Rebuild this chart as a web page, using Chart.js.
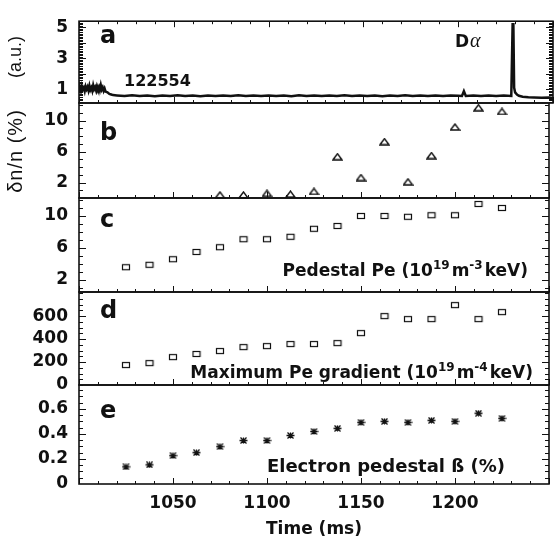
<!DOCTYPE html>
<html>
<head>
<meta charset="utf-8">
<script src="https://cdn.jsdelivr.net/npm/chart.js@4.4.0/dist/chart.umd.min.js"></script>
<style>
  body { margin: 0; background: #fff; }
  #wrap { position: relative; width: 554px; height: 542px; }
  #wrap canvas { position: absolute; left: 0; top: 0; }
</style>
</head>
<body>
<div id="wrap">
  <canvas id="pa" width="554" height="542"></canvas>
  <canvas id="pb" width="554" height="542"></canvas>
  <canvas id="pc" width="554" height="542"></canvas>
  <canvas id="pd" width="554" height="542"></canvas>
  <canvas id="pe" width="554" height="542"></canvas>
</div>
<script>
// ---- data ----
// (a) D-alpha trace, shot 122554
const daTime = [1000,1000.5,1001,1001.5,1002,1002.5,1003,1003.5,1004,1004.5,1005,1005.5,1006,1006.5,1007,1007.5,
  1008,1008.5,1009,1009.5,1010,1010.5,1011,1011.5,1012,1012.5,1013,1013.5,1014,1015,1016,1017,1018,
  1020,1024,1028,1032,1036,1040,1044,1048,1052,1056,1060,1064,1068,1072,1076,1080,1084,1088,1092,1096,1100,
  1104,1108,1112,1116,1120,1124,1128,1132,1136,1140,1144,1148,1152,1156,1160,1164,1168,1172,1176,1180,
  1184,1188,1192,1196,1200,1202,1203,1204,1208,1212,1216,1220,1224,1228,1228.7,1229.1,1229.5,1230,1231,
  1232,1234,1237,1240,1244,1248,1250];
const daSignal = [0.95,1.12,0.9,1.2,0.98,1.1,0.88,1.18,1.0,1.15,0.92,1.22,0.96,1.1,0.9,1.25,
  1.0,1.14,0.93,1.2,1.02,1.16,0.95,1.26,0.98,1.12,0.9,1.05,0.85,0.8,0.7,0.66,0.62,
  0.6,0.56,0.61,0.57,0.6,0.55,0.6,0.57,0.61,0.56,0.59,0.55,0.6,0.57,0.6,0.56,0.61,0.57,0.59,0.56,0.6,
  0.57,0.6,0.55,0.61,0.57,0.59,0.56,0.6,0.57,0.61,0.56,0.59,0.57,0.6,0.55,0.6,0.57,0.61,0.56,0.59,
  0.57,0.6,0.56,0.6,0.58,0.57,0.88,0.57,0.6,0.56,0.6,0.57,0.6,0.57,5.2,5.2,1.1,0.8,0.65,
  0.58,0.52,0.48,0.47,0.45,0.46,0.44];

// (b) density fluctuation level
const flucTime = [1075,1087.5,1100,1112.5,1125,1137.5,1150,1162.5,1175,1187.5,1200,1212.5,1225];
const dnOverN = [0.4,0.4,0.6,0.5,0.85,5.35,2.65,7.3,2.1,5.5,9.2,11.7,11.2];

// (c)-(e) profile fits
const fitTime = [1025,1037.5,1050,1062.5,1075,1087.5,1100,1112.5,1125,1137.5,1150,1162.5,1175,1187.5,1200,1212.5,1225];
const pedPe = [3.6,3.9,4.6,5.5,6.1,7.1,7.1,7.4,8.4,8.75,10.0,10.0,9.9,10.1,10.1,11.5,11.0];
const maxGradPe = [174,191,243,270,296,330,339,357,357,365,452,600,574,574,696,574,635];
const betaPed = [0.137,0.153,0.226,0.25,0.298,0.347,0.347,0.387,0.419,0.444,0.492,0.5,0.492,0.508,0.5,0.565,0.524];

// tick labels
const timeTicks = [1050, 1100, 1150, 1200];
const daTicks = [1, 3, 5];
const flucTicks = [2, 6, 10];
const peTicks = [2, 6, 10];
const gradTicks = [0, 200, 400, 600];
const betaTicks = [0, 0.2, 0.4, 0.6];

Chart.defaults.font.family = 'DejaVu Sans';
Chart.defaults.font.size = 17;
Chart.defaults.font.weight = 'bold';
Chart.defaults.color = '#111';

const INK = '#111';
const BOLD = 'bold 17px "DejaVu Sans"';
const SUP = 'bold 12px "DejaVu Sans"';

function pts(xs, ys) {
  return xs.map((x, i) => ({ x: x, y: ys[i] }));
}

// small marker images
function marker(w, h, draw) {
  const c = document.createElement('canvas');
  c.width = w; c.height = h;
  const g = c.getContext('2d');
  g.strokeStyle = INK;
  g.lineWidth = 1.2;
  draw(g);
  return c;
}
const squareMark = marker(10, 8, g => g.strokeRect(1.5, 1.5, 7, 5));
const triMark = marker(11, 8, g => {
  g.lineWidth = 1.4;
  g.beginPath(); g.moveTo(1, 7); g.lineTo(5.5, 1); g.lineTo(10, 7); g.closePath(); g.stroke();
});
const starMark = marker(9, 7, g => {
  g.lineWidth = 1.3;
  g.beginPath();
  g.moveTo(0.5, 3.5); g.lineTo(8.5, 3.5);
  g.moveTo(1.5, 0.5); g.lineTo(7.5, 6.5);
  g.moveTo(1.5, 6.5); g.lineTo(7.5, 0.5);
  g.moveTo(4.5, 0.5); g.lineTo(4.5, 6.5);
  g.stroke();
});

// text made of runs, some raised as superscripts
function drawRuns(ctx, runs, x, y, align) {
  let total = 0;
  runs.forEach(r => { ctx.font = r.sup ? SUP : BOLD; total += ctx.measureText(r.t).width + (r.gap || 0); });
  let cx = align === 'right' ? x - total : x;
  runs.forEach(r => {
    ctx.font = r.sup ? SUP : BOLD;
    ctx.fillText(r.t, cx, r.sup ? y - 7 : y);
    cx += ctx.measureText(r.t).width + (r.gap || 0);
  });
}

// frame, inward ticks and labels of one panel
function framePlugin(cfg) {
  return {
    id: 'frame',
    afterDraw(chart) {
      const { ctx, chartArea: a } = chart;
      const x = chart.scales.x, y = chart.scales.y;
      ctx.save();
      ctx.strokeStyle = INK;
      ctx.lineWidth = 1;
      ctx.beginPath();
      for (let t = 1000; t <= 1250; t += 10) {
        const px = Math.round(x.getPixelForValue(t)) + 0.5;
        const len = t % 50 === 0 ? 6 : 3;
        ctx.moveTo(px, a.bottom); ctx.lineTo(px, a.bottom - len);
        if (cfg.topTicks) { ctx.moveTo(px, a.top); ctx.lineTo(px, a.top + len); }
      }
      for (let i = 0; ; i++) {
        const v = cfg.minorFrom + i * cfg.minorStep;
        if (v > y.max + 1e-9) break;
        if (v < y.min) continue;
        const py = Math.round(y.getPixelForValue(v)) + 0.5;
        const major = cfg.majors.some(m => Math.abs(m - v) < 1e-6);
        const len = major ? 7 : 4;
        ctx.moveTo(a.left, py); ctx.lineTo(a.left + len, py);
        ctx.moveTo(a.right, py); ctx.lineTo(a.right - len, py);
      }
      ctx.stroke();
      ctx.lineWidth = 1.6;
      ctx.strokeRect(a.left, a.top, a.right - a.left, a.bottom - a.top);

      ctx.fillStyle = INK;
      ctx.textAlign = 'left';
      ctx.textBaseline = 'alphabetic';
      ctx.font = 'bold 24px "DejaVu Sans"';
      ctx.fillText(cfg.letter, 100, cfg.letterY);
      if (cfg.extra) cfg.extra(ctx);
      ctx.restore();
    }
  };
}

function makePanel(id, cfg) {
  return new Chart(document.getElementById(id), {
    type: 'scatter',
    data: { datasets: cfg.datasets },
    options: {
      responsive: false,
      animation: false,
      devicePixelRatio: 1,
      layout: { padding: { left: 0, right: 1, top: cfg.top, bottom: cfg.bottom } },
      plugins: { legend: { display: false }, tooltip: { enabled: false } },
      scales: {
        x: {
          type: 'linear', min: 1000, max: 1250,
          display: !!cfg.showX,
          grid: { display: false, drawTicks: false },
          border: { display: false },
          afterBuildTicks: s => { s.ticks = timeTicks.map(v => ({ value: v })); },
          afterFit: s => { s.height = cfg.showX ? 58 : 0; },
          ticks: { padding: 9, maxRotation: 0, callback: v => String(v) },
          title: { display: true, text: 'Time (ms)', padding: { top: 0, bottom: 2 } }
        },
        y: {
          min: cfg.min, max: cfg.max,
          grid: { display: false, drawTicks: false },
          border: { display: false },
          afterBuildTicks: s => { s.ticks = cfg.ticks.map(v => ({ value: v })); },
          afterFit: s => { s.width = 79; },
          ticks: { padding: 11, callback: v => String(v) }
        }
      }
    },
    plugins: [framePlugin(cfg)]
  });
}

makePanel('pa', {
  top: 11, bottom: 542 - 103, min: 0.11, max: 5.4, ticks: daTicks,
  minorFrom: 0.2, minorStep: 0.1, majors: [1, 2, 3, 4, 5], topTicks: true,
  letter: 'a', letterY: 43,
  datasets: [{
    data: pts(daTime, daSignal), showLine: true, borderColor: INK, borderWidth: 2.5,
    pointRadius: 0, tension: 0
  }],
  extra: ctx => {
    ctx.font = 'bold 16px "DejaVu Sans"';
    ctx.fillText('122554', 124, 86);
    ctx.font = 'bold 17px "DejaVu Sans"';
    ctx.fillText('D', 455, 47);
    ctx.font = 'italic 20px "Liberation Serif"';
    ctx.fillText('\u03b1', 470, 47);
    // y axis titles
    ctx.textAlign = 'center';
    ctx.textBaseline = 'middle';
    ctx.font = '18px "Liberation Sans"';
    ctx.save(); ctx.translate(16, 57); ctx.rotate(-Math.PI / 2); ctx.fillText('(a.u.)', 0, 0); ctx.restore();
    ctx.font = '20px "Liberation Sans"';
    ctx.letterSpacing = '1px';
    ctx.save(); ctx.translate(16, 151); ctx.rotate(-Math.PI / 2); ctx.fillText('\u03b4n/n (%)', 0, 0); ctx.restore();
    ctx.letterSpacing = '0px';
  }
});

makePanel('pb', {
  top: 103, bottom: 542 - 198, min: 0, max: 12.3, ticks: flucTicks,
  minorFrom: 1, minorStep: 1, majors: flucTicks,
  letter: 'b', letterY: 140,
  datasets: [{ data: pts(flucTime, dnOverN), pointStyle: triMark, clip: false }]
});

makePanel('pc', {
  top: 198, bottom: 542 - 292, min: 0.5, max: 12.25, ticks: peTicks,
  minorFrom: 1, minorStep: 1, majors: peTicks,
  letter: 'c', letterY: 227,
  datasets: [{ data: pts(fitTime, pedPe), pointStyle: squareMark, clip: false }],
  extra: ctx => drawRuns(ctx, [
    { t: 'Pedestal Pe (10' }, { t: '19', sup: true, gap: 2 }, { t: 'm' },
    { t: '-3', sup: true, gap: 2 }, { t: 'keV)' }
  ], 528, 276, 'right')
});

makePanel('pd', {
  top: 292, bottom: 542 - 385, min: 0, max: 810, ticks: gradTicks,
  minorFrom: 0, minorStep: 50, majors: [200, 400, 600],
  letter: 'd', letterY: 318,
  datasets: [{ data: pts(fitTime, maxGradPe), pointStyle: squareMark, clip: false }],
  extra: ctx => drawRuns(ctx, [
    { t: 'Maximum Pe gradient (10' }, { t: '19', sup: true, gap: 2 }, { t: 'm' },
    { t: '-4', sup: true, gap: 2 }, { t: 'keV)' }
  ], 533, 378, 'right')
});

makePanel('pe', {
  top: 385, bottom: 0, min: 0, max: 0.79, ticks: betaTicks, showX: true,
  minorFrom: 0.05, minorStep: 0.05, majors: [0.2, 0.4, 0.6],
  letter: 'e', letterY: 418,
  datasets: [{ data: pts(fitTime, betaPed), pointStyle: starMark, clip: false }],
  extra: ctx => {
    ctx.font = 'bold 18px "DejaVu Sans"';
    ctx.textAlign = 'right';
    ctx.fillText('Electron pedestal \u00df (%)', 505, 472);
  }
});
</script>
</body>
</html>
